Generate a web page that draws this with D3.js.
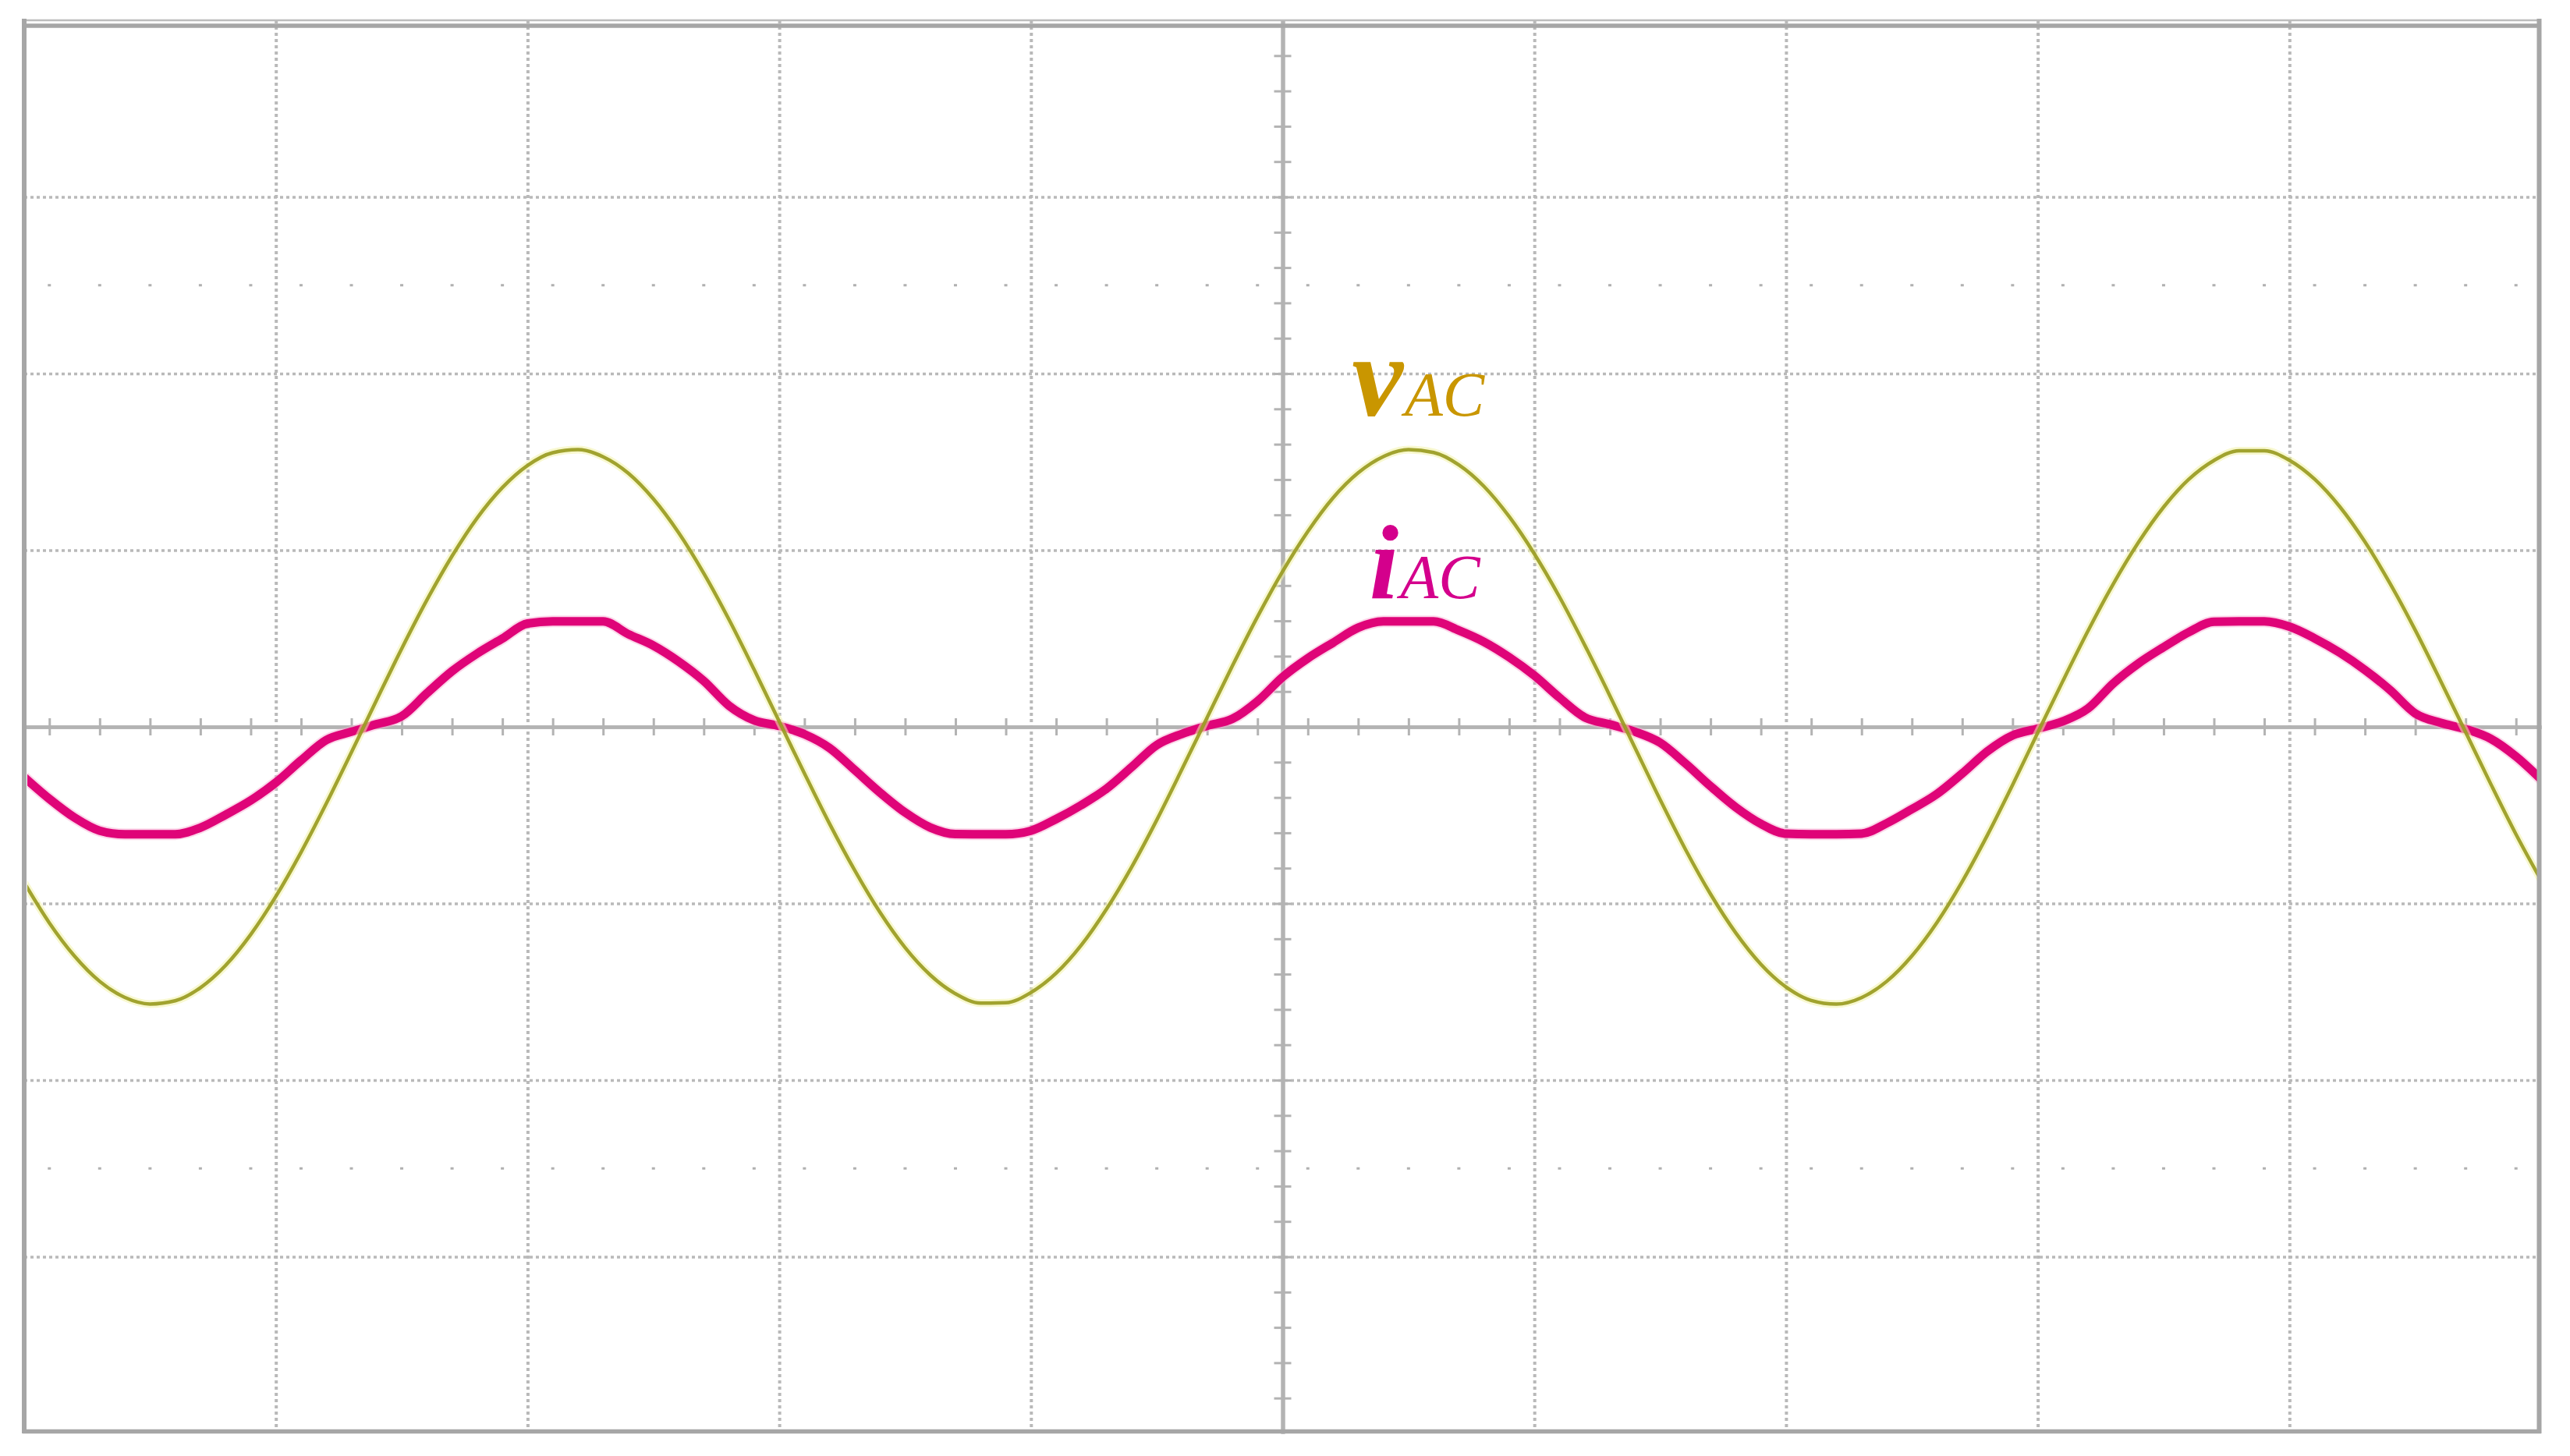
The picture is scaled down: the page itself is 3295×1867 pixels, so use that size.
<!DOCTYPE html>
<html>
<head>
<meta charset="utf-8">
<script src="https://cdn.jsdelivr.net/npm/d3@7"></script>
<style>
  html, body { margin: 0; padding: 0; background: #ffffff; }
  svg { display: block; }
</style>
</head>
<body>
<svg id="chart" width="3295" height="1867"></svg>
<script>
// ---- data (time in divisions, amplitude in divisions) ----
const time = [-5.0,-4.9,-4.8,-4.7,-4.6,-4.5,-4.4,-4.3,-4.2,-4.1,-4.0,-3.9,-3.8,-3.7,-3.6,-3.5,-3.4,-3.3,-3.2,-3.1,
  -3.0,-2.9,-2.8,-2.7,-2.6,-2.5,-2.4,-2.3,-2.2,-2.1,-2.0,-1.9,-1.8,-1.7,-1.6,-1.5,-1.4,-1.3,-1.2,-1.1,
  -1.0,-0.9,-0.8,-0.7,-0.6,-0.5,-0.4,-0.3,-0.2,-0.1,0.0,0.1,0.2,0.3,0.4,0.5,0.6,0.7,0.8,0.9,
  1.0,1.1,1.2,1.3,1.4,1.5,1.6,1.7,1.8,1.9,2.0,2.1,2.2,2.3,2.4,2.5,2.6,2.7,2.8,2.9,
  3.0,3.1,3.2,3.3,3.4,3.5,3.6,3.7,3.8,3.9,4.0,4.1,4.2,4.3,4.4,4.5,4.6,4.7,4.8,4.9,5.0];

const vAC = [-0.882,-1.110,-1.298,-1.441,-1.532,-1.569,-1.551,-1.477,-1.351,-1.176,-0.960,-0.710,-0.435,-0.145,0.151,0.443,0.718,0.967,1.183,1.355,
  1.480,1.552,1.569,1.529,1.436,1.290,1.099,0.869,0.608,0.324,0.030,-0.264,-0.549,-0.813,-1.050,-1.250,-1.405,-1.511,-1.564,-1.562,
  -1.504,-1.395,-1.236,-1.032,-0.794,-0.527,-0.240,0.053,0.344,0.623,0.880,1.106,1.296,1.438,1.530,1.569,1.553,1.483,1.361,1.190,
  0.979,0.735,0.463,0.176,-0.119,-0.413,-0.693,-0.947,-1.166,-1.344,-1.473,-1.549,-1.570,-1.533,-1.441,-1.297,-1.107,-0.876,-0.613,-0.329,
  -0.033,0.260,0.544,0.809,1.044,1.244,1.401,1.508,1.563,1.563,1.509,1.402,1.246,1.047,0.811,0.547,0.262,-0.030,-0.324,-0.608,-0.869];

const iAC = [-0.285,-0.408,-0.514,-0.588,-0.608,-0.608,-0.608,-0.571,-0.498,-0.417,-0.315,-0.190,-0.075,-0.028,0.015,0.060,0.190,0.315,0.415,0.500,
  0.585,0.597,0.597,0.597,0.525,0.460,0.370,0.260,0.120,0.037,0.005,-0.042,-0.120,-0.245,-0.372,-0.485,-0.570,-0.607,-0.608,-0.608,
  -0.588,-0.522,-0.443,-0.350,-0.228,-0.103,-0.040,0.006,0.045,0.145,0.282,0.388,0.476,0.561,0.597,0.597,0.597,0.546,0.481,0.394,
  0.290,0.165,0.054,0.014,-0.028,-0.090,-0.207,-0.336,-0.455,-0.549,-0.605,-0.608,-0.608,-0.605,-0.546,-0.466,-0.380,-0.264,-0.139,-0.049,
  -0.010,0.031,0.104,0.246,0.359,0.451,0.536,0.595,0.597,0.597,0.567,0.501,0.420,0.322,0.208,0.076,0.023,-0.013,-0.068,-0.168,-0.298];

const gridX = [-4,-3,-2,-1,1,2,3,4];
const gridY = [-3,-2,-1,1,2,3];
const dotRows = [2.5,-2.5];
const seriesNames = ["v", "i"];
const seriesSub = ["AC", "AC"];

// ---- scales ----
const svg = d3.select("#chart");
const x = d3.scaleLinear().domain([-5, 5]).range([31, 3258]);
const y = d3.scaleLinear().domain([-4, 4]).range([1838, 26]);

const minorX = d3.range(-49, 50, 2).map(d => d / 10);   // 0.2 div sub-ticks
const minorY = d3.range(-38, 39, 2).map(d => d / 10);

const gridColor = "#b9b9b9";

// ---- dotted major grid ----
const gx = svg.append("g")
  .attr("transform", `translate(0,${y(-4)})`)
  .call(d3.axisBottom(x).tickValues(gridX).tickSize(-(y(-4) - y(4))).tickFormat(""));
gx.select(".domain").remove();
gx.selectAll("line").attr("stroke", gridColor).attr("stroke-width", 4).attr("stroke-dasharray", "4,4");

const gy = svg.append("g")
  .attr("transform", `translate(${x(-5)},0)`)
  .call(d3.axisLeft(y).tickValues(gridY).tickSize(-(x(5) - x(-5))).tickFormat(""));
gy.select(".domain").remove();
gy.selectAll("line").attr("stroke", gridColor).attr("stroke-width", 3.5).attr("stroke-dasharray", "4,4");

// sparse dotted rows at +/-2.5 div
svg.append("g").selectAll("g").data(dotRows).join("g")
  .each(function(r) {
    d3.select(this).selectAll("rect").data(minorX).join("rect")
      .attr("x", d => x(d) - 2).attr("y", y(r) - 1.5)
      .attr("width", 4).attr("height", 3).attr("fill", "#b0b0b0");
  });

// ---- central axes with sub-ticks ----
const axColor = "#b3b3b3";
function styleAxis(g, w) {
  g.selectAll(".tick line").attr("stroke", axColor).attr("stroke-width", 3);
  g.select(".domain").attr("stroke", axColor).attr("stroke-width", w);
  g.selectAll("text").remove();
}
const ax1 = svg.append("g").attr("transform", `translate(0,${y(0)})`)
  .call(d3.axisBottom(x).tickValues(minorX).tickSize(11).tickSizeOuter(0).tickFormat(""));
styleAxis(ax1, 4.5);
const ax2 = svg.append("g").attr("transform", `translate(0,${y(0)})`)
  .call(d3.axisTop(x).tickValues(minorX).tickSize(11).tickSizeOuter(0).tickFormat(""));
styleAxis(ax2, 4.5);
const ay1 = svg.append("g").attr("transform", `translate(${x(0)},0)`)
  .call(d3.axisLeft(y).tickValues(minorY).tickSize(11).tickSizeOuter(0).tickFormat(""));
styleAxis(ay1, 5);
const ay2 = svg.append("g").attr("transform", `translate(${x(0)},0)`)
  .call(d3.axisRight(y).tickValues(minorY).tickSize(11).tickSizeOuter(0).tickFormat(""));
styleAxis(ay2, 5);

// ---- waveforms ----
const iData = time.map((t, k) => [t, iAC[k]]);
const vData = time.map((t, k) => [t, vAC[k]]);
const line = d3.line().x(d => x(d[0])).y(d => y(d[1])).curve(d3.curveMonotoneX);

svg.append("clipPath").attr("id", "plotclip")
  .append("rect").attr("x", x(-5) + 4).attr("y", y(4)).attr("width", x(5) - x(-5) - 8).attr("height", y(-4) - y(4));

const traces = svg.append("g").attr("clip-path", "url(#plotclip)");
traces.append("path").datum(iData).attr("d", line)
  .attr("fill", "none").attr("stroke", "#f7b0d4").attr("stroke-width", 15).attr("stroke-linejoin", "round").attr("opacity", 0.5);
traces.append("path").datum(iData).attr("d", line)
  .attr("fill", "none").attr("stroke", "#df0478").attr("stroke-width", 11).attr("stroke-linejoin", "round");
traces.append("path").datum(vData).attr("d", line)
  .attr("fill", "none").attr("stroke", "#f3f3a8").attr("stroke-width", 10).attr("opacity", 0.55);
traces.append("path").datum(vData).attr("d", line)
  .attr("fill", "none").attr("stroke", "#999b22").attr("stroke-width", 4.5).attr("opacity", 0.92);

// ---- frame ----
const frameColor = "#a6a6a6";
svg.append("line").attr("x1", x(-5) - 2).attr("x2", x(5)).attr("y1", 26).attr("y2", 26)
  .attr("stroke", "#bdbdbd").attr("stroke-width", 2.5);
svg.append("line").attr("x1", x(-5) - 2).attr("x2", x(5)).attr("y1", 33).attr("y2", 33)
  .attr("stroke", frameColor).attr("stroke-width", 5.5);
svg.append("line").attr("x1", x(-5) - 2).attr("x2", x(5)).attr("y1", y(-4) - 2.5).attr("y2", y(-4) - 2.5)
  .attr("stroke", frameColor).attr("stroke-width", 5.5);
svg.append("line").attr("x1", x(-5)).attr("x2", x(-5)).attr("y1", 24).attr("y2", y(-4))
  .attr("stroke", frameColor).attr("stroke-width", 6);
svg.append("line").attr("x1", x(5) - 2.5).attr("x2", x(5) - 2.5).attr("y1", 24).attr("y2", y(-4))
  .attr("stroke", frameColor).attr("stroke-width", 6);

// ---- labels ----
const labelColors = ["#c99600", "#d4008c"];
const labelAt = [[0.275, 1.762], [0.345, 0.728]];
const labelSize = [148, 135];
seriesNames.forEach((n, k) => {
  const t = svg.append("text")
    .attr("x", x(labelAt[k][0])).attr("y", y(labelAt[k][1]))
    .attr("font-family", "'Liberation Serif', 'DejaVu Serif', serif")
    .attr("fill", labelColors[k]);
  t.append("tspan").attr("font-size", labelSize[k]).attr("font-weight", "bold").attr("font-style", "italic").text(n);
  t.append("tspan").attr("font-size", 80).attr("font-style", "italic").attr("dx", 2).text(seriesSub[k]);
});
</script>
</body>
</html>
